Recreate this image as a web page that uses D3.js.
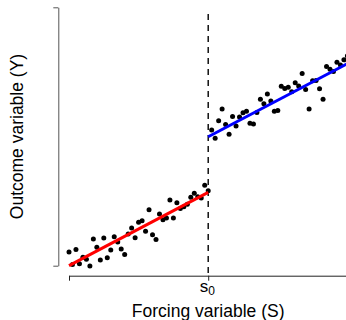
<!DOCTYPE html>
<html><head><meta charset="utf-8">
<script src="https://cdn.jsdelivr.net/npm/d3@7"></script>
<style>body{margin:0;background:#fff}svg{display:block}text{font-family:"Liberation Sans",Arial,sans-serif}</style>
</head><body>
<svg id="c" width="346" height="320"></svg>
<script>
const s0 = 40;
const leftY = [5.3,0.5,6.3,0.8,3.3,2.5,-0.1,10.3,7.1,2.2,10.7,3.1,6.1,11.2,9.2,6.5,4.3,12.3,14.6,10.8,16.8,17.4,13.3,21.7,12.0,10.1,20.0,17.8,18.5,25.4,18.5,24.4,22.1,22.8,23.8,26.5,28.0,26.7,26.2,31.1,29.0];
const rightY = [52.5,49.3,56.1,60.6,54.6,50.9,57.7,54.1,57.5,59.2,59.8,55.1,54.8,59.3,64.4,62.7,66.4,63.7,59.8,60.1,69.4,68.6,69.1,67.3,70.8,69.5,74.4,68.2,60.6,71.6,71.7,68.5,64.4,77.1,76.0,75.2,78.7,77.7,79.7,81.2];
const redFit = [[0,0],[40,28.4]];
const blueFit = [[40,49.9],[80,78.2]];
const xTicks = [0, 40, 80];
const yTicks = [0, 100];

const svg = d3.select("#c");
const x = d3.scaleLinear().domain([0,80]).range([69,347.4]);
const y = d3.scaleLinear().domain([0,100]).range([265.7,7.3]);

const pts = leftY.map((v,i)=>({s:i,y:v})).concat(rightY.map((v,i)=>({s:s0+1+i,y:v})));

// axes
const ya = svg.append("g").attr("transform","translate(58.3,0)")
  .call(d3.axisLeft(y).tickValues(yTicks).tickFormat("").tickSize(5).tickSizeOuter(0));
ya.selectAll("path,line").attr("stroke","#555");
const xa = svg.append("g").attr("transform","translate(0,275.7)")
  .call(d3.axisBottom(x).tickValues(xTicks).tickFormat("").tickSize(5).tickSizeOuter(0));
xa.selectAll("path,line").attr("stroke","#222");

// dashed cutoff
svg.append("line").attr("x1",x(s0)).attr("x2",x(s0)).attr("y1",14).attr("y2",275.7)
  .attr("stroke","#000").attr("stroke-width",1.4).attr("stroke-dasharray","6,5");

// points
svg.append("g").selectAll("circle").data(pts).join("circle")
  .attr("cx",d=>x(d.s)).attr("cy",d=>y(d.y)).attr("r",2.5).attr("fill","#000");

const line = d3.line().x(d=>x(d[0])).y(d=>y(d[1]));
svg.append("path").attr("d",line(redFit)).attr("stroke","#ff0000").attr("stroke-width",3).attr("fill","none");
svg.append("path").attr("d",line(blueFit)).attr("stroke","#0000ff").attr("stroke-width",3).attr("fill","none");

// labels
const sl = svg.append("text").attr("x",x(s0)-8.5).attr("y",291.7).attr("font-size",17).attr("fill","#000");
sl.append("tspan").text("s");
sl.append("tspan").attr("font-size",12).attr("dy",3.6).text("0");
svg.append("text").attr("x",x(s0)).attr("y",316.5).attr("text-anchor","middle").attr("font-size",17.5).attr("fill","#000").text("Forcing variable (S)");
svg.append("text").attr("transform","translate(22.5,136.5) rotate(-90)").attr("text-anchor","middle").attr("font-size",17.5).attr("fill","#000").text("Outcome variable (Y)");
</script>
</body></html>
